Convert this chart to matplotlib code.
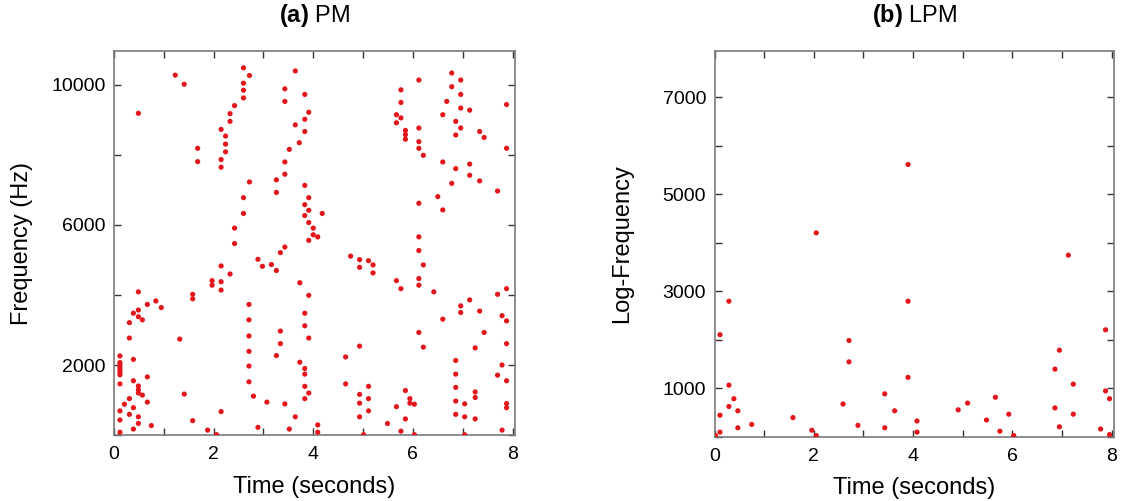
import matplotlib
matplotlib.use("Agg")
import matplotlib.pyplot as plt

plt.rcParams['font.family'] = ['Liberation Sans', 'DejaVu Sans']
plt.rcParams['mathtext.fontset'] = 'custom'
plt.rcParams['mathtext.rm'] = 'Liberation Sans'
plt.rcParams['mathtext.bf'] = 'Liberation Sans:bold'

# ---- (a) PM data: time (s), frequency (Hz)
pm_points = [
    (0.49,9190),(1.23,10280),(1.41,10020),(1.68,8190),(1.68,7810),(2.15,8730),(2.24,8540),(2.24,8310),
    (2.24,8090),(2.15,7870),(2.15,7650),(2.33,8960),(2.33,9180),(2.42,9410),(2.60,9630),(2.60,9850),
    (2.60,10050),(2.60,10490),(2.72,10270),(2.72,7230),(2.60,6780),(2.60,6330),(2.42,5910),(3.26,7290),
    (3.26,6930),(3.43,7800),(3.43,7450),(3.52,8160),(3.64,8860),(3.72,8350),(3.43,9890),(3.43,9530),
    (3.64,10400),(3.83,9730),(3.91,9220),(3.83,9020),(3.83,8670),(3.83,7130),(3.91,6780),(3.83,6580),
    (3.91,6420),(3.83,6270),(4.18,6330),(3.91,6070),(4.00,5910),(4.09,5660),(4.00,5720),(5.76,9860),
    (5.76,9500),(5.67,9150),(5.76,9060),(5.67,8920),(5.85,8700),(5.85,8580),(5.85,8450),(6.12,10140),
    (6.12,8770),(6.12,8380),(6.12,8190),(6.21,7990),(6.12,6620),(6.12,5660),(6.60,7800),(6.60,9150),
    (6.68,9530),(6.78,10340),(6.78,9950),(6.96,10140),(6.96,9730),(6.96,9340),(6.86,8960),(6.96,8770),
    (6.86,8570),(7.14,9280),(7.34,8670),(7.43,8500),(7.88,9440),(7.88,8190),(6.86,7610),(7.14,7740),
    (7.14,7420),(6.78,7190),(7.34,7260),(7.70,6970),(6.50,6810),(6.60,6430),
    (2.42,5470),(2.89,5020),(2.98,4820),(3.16,4870),(3.26,4700),(3.34,5210),(3.43,5370),(3.73,4350),
    (2.15,4830),(2.33,4600),(1.97,4410),(1.97,4280),(2.15,4380),(2.15,4140),(1.58,4020),(1.58,3890),
    (0.49,4090),(0.84,3830),(0.67,3730),(0.95,3640),(0.39,3480),(0.49,3570),(0.49,3380),(0.57,3290),
    (0.31,3210),(0.31,2770),(1.32,2740),(2.71,3730),(2.71,3290),(2.71,2830),(2.71,2390),(2.71,1970),
    (2.71,1520),(2.80,1110),(3.34,2970),(3.34,2610),(3.26,2270),(3.73,2080),(3.07,940),(3.43,890),
    (3.64,520),(3.52,170),(2.89,220),(2.15,670),(1.58,410),(1.41,1170),(1.88,140),(2.06,10),
    (0.75,270),(0.67,1660),(0.67,940),(0.57,1140),(0.49,1400),(0.49,1290),(0.49,1200),(0.39,1550),
    (0.39,780),(0.31,1040),(0.31,590),(0.21,880),(0.49,520),(0.49,330),(0.39,170),(0.12,690),
    (0.12,430),(0.12,80),(0.12,1460),(0.39,2160),(0.12,2260),(0.12,2070),(0.12,2000),(0.12,1930),
    (0.12,1860),(0.12,1790),(0.12,1720),
    (3.91,5560),(3.91,3990),(3.83,3480),(3.83,3120),(3.91,2770),(3.83,1900),(3.83,1740),(3.83,1390),
    (3.91,1200),(3.83,1040),(4.09,290),(4.09,80),(4.75,5110),(4.93,5010),(4.93,4790),(5.11,4980),
    (5.20,4860),(5.20,4630),(5.67,4410),(5.76,4180),(6.12,5270),(6.21,4860),(6.12,4470),(6.12,4280),
    (6.42,4090),(6.12,2930),(6.21,2510),(6.96,3690),(6.96,3500),(7.14,3860),(6.60,3310),(7.34,3540),
    (7.43,2930),(7.70,4020),(7.88,4180),(7.79,3410),(7.88,3260),(7.88,2610),(7.25,2490),(7.79,2000),
    (7.70,1710),(7.88,1550),(7.88,900),(7.88,780),(7.79,140),(6.86,2130),(6.86,1740),(6.86,1360),
    (6.86,970),(6.86,590),(7.04,890),(7.04,520),(7.04,10),(7.25,1230),(7.25,1070),(7.25,460),
    (4.65,2230),(4.93,2540),(4.65,1460),(4.93,1160),(5.11,1390),(4.93,910),(5.11,1040),(4.93,520),
    (5.11,690),(5.85,1270),(5.94,1040),(5.94,910),(6.03,880),(5.67,810),(5.85,460),(5.49,330),
    (5.76,110),(6.03,10),(5.01,10),
]
pm_time = [p[0] for p in pm_points]
pm_freq = [p[1] for p in pm_points]

# ---- (b) LPM data: time (s), log-frequency
lpm_points = [
    (2.05,4200),(3.90,5610),(0.29,2790),(0.11,2100),(2.71,1980),(2.71,1540),(3.90,2790),(3.90,1220),
    (0.29,1060),(0.39,780),(0.29,620),(0.47,530),(0.11,440),(0.75,250),(0.47,180),(0.11,90),
    (0.02,20),(1.58,390),(1.96,130),(2.05,20),(2.59,670),(2.89,230),(3.43,880),(3.63,530),
    (3.43,180),(4.08,320),(4.08,90),(4.91,550),(5.10,690),(5.48,340),(5.66,810),(5.75,110),
    (5.93,460),(6.03,20),(7.13,3740),(6.95,1780),(6.86,1390),(7.23,1080),(6.86,590),(6.95,200),
    (7.23,460),(7.88,2200),(7.88,940),(7.96,780),(7.78,155),(7.96,40),
]
lpm_time = [p[0] for p in lpm_points]
lpm_freq = [p[1] for p in lpm_points]

x_ticks = list(range(9))
x_ticklabels = ['0', '', '2', '', '4', '', '6', '', '8']
pm_yticks = [0, 2000, 4000, 6000, 8000, 10000]
pm_yticklabels = ['', '2000', '', '6000', '', '10000']
lpm_yticks = [0, 1000, 2000, 3000, 4000, 5000, 6000, 7000]
lpm_yticklabels = ['', '1000', '', '3000', '', '5000', '', '7000']

RED = '#e3161c'
SPINE = '#7a7a7a'

fig = plt.figure(figsize=(11.24, 5.01), dpi=100)
ax1 = fig.add_axes([0.1014, 0.1317, 0.3568, 0.7665])
ax2 = fig.add_axes([0.6357, 0.1287, 0.3554, 0.7695])

def style(ax):
    for s in ax.spines.values():
        s.set_color(SPINE)
        s.set_linewidth(1.2)
    ax.tick_params(direction='in', length=5, width=1, color='#333333',
                   top=True, right=True, labelsize=14)
    ax.tick_params(axis='x', pad=8)
    ax.tick_params(axis='y', pad=6)

ax1.scatter(pm_time, pm_freq, s=14, color=RED, edgecolors='none', zorder=3)
ax1.set_xlim(0, 8.05)
ax1.set_ylim(0, 10970)
ax1.set_xticks(x_ticks)
ax1.set_xticklabels(x_ticklabels)
ax1.set_yticks(pm_yticks)
ax1.set_yticklabels(pm_yticklabels)
style(ax1)
ax1.set_xlabel('Time (seconds)', fontsize=17, labelpad=9)
ax1.set_ylabel('Frequency (Hz)', fontsize=17, labelpad=13)
ax1.set_title(r'$\mathbf{(a)}$ PM', fontsize=17, pad=21)

ax2.scatter(lpm_time, lpm_freq, s=14, color=RED, edgecolors='none', zorder=3)
ax2.set_xlim(0, 8.05)
ax2.set_ylim(0, 7950)
ax2.set_xticks(x_ticks)
ax2.set_xticklabels(x_ticklabels)
ax2.set_yticks(lpm_yticks)
ax2.set_yticklabels(lpm_yticklabels)
style(ax2)
ax2.set_xlabel('Time (seconds)', fontsize=17, labelpad=9)
ax2.set_ylabel('Log-Frequency', fontsize=17, labelpad=21)
ax2.set_title(r'$\mathbf{(b)}$ LPM', fontsize=17, pad=21)

fig.savefig('out.png', dpi=100)
